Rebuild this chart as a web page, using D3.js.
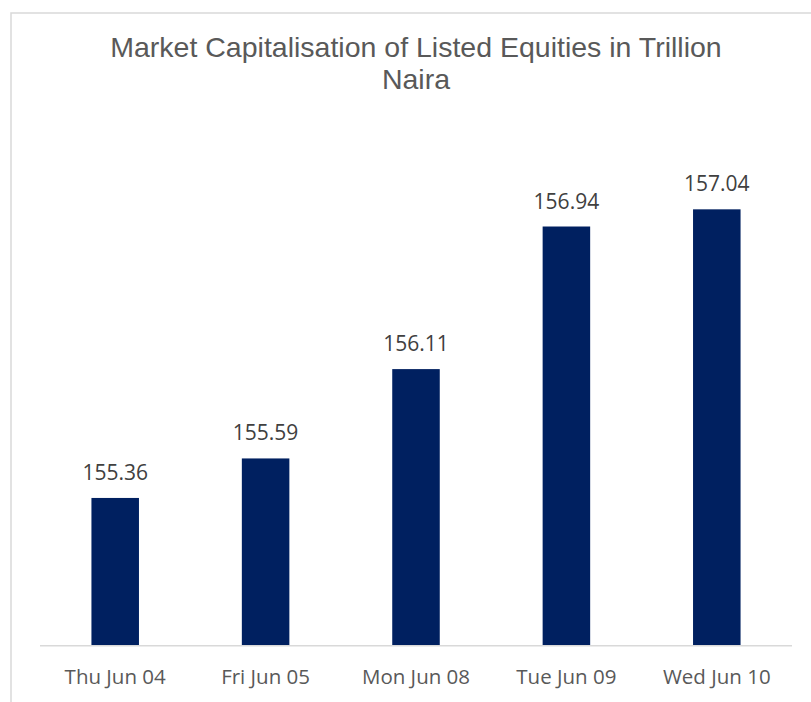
<!DOCTYPE html>
<html>
<head>
<meta charset="utf-8">
<script src="https://cdn.jsdelivr.net/npm/d3@7"></script>
<style>
  html, body { margin: 0; padding: 0; background: #fff; }
  svg { display: block; }
  .title { font-family: "Liberation Sans", Arial, sans-serif; fill: #595959; }
  .val { font-family: "Open Sans", sans-serif; fill: #404040; }
  .cat { font-family: "Open Sans", sans-serif; fill: #595959; }
</style>
</head>
<body>
<div id="chart"></div>
<script>
// Market cap per trading day, trillion naira.
const days = ["Thu Jun 04", "Fri Jun 05", "Mon Jun 08", "Tue Jun 09", "Wed Jun 10"];
const capTrn = [155.36, 155.59, 156.11, 156.94, 157.04];
const titleLines = ["Market Capitalisation of Listed Equities in Trillion", "Naira"];

const W = 811, H = 702;
const plot = { left: 40, right: 792, top: 130.3, bottom: 645.7 };

const svg = d3.select("#chart").append("svg")
  .attr("width", W).attr("height", H);

// chart frame (runs off the right / bottom edge like the original)
svg.append("rect")
  .attr("x", 11).attr("y", 13).attr("width", 830).attr("height", 720)
  .attr("fill", "none").attr("stroke", "#d9d9d9").attr("stroke-width", 1.5);

svg.append("g").selectAll("text").data(titleLines).join("text")
  .attr("class", "title")
  .attr("x", 416).attr("y", (d, i) => 57.3 + i * 32)
  .attr("text-anchor", "middle")
  .attr("font-size", 28.5)
  .text((d) => d);

const x = d3.scaleBand(days, [plot.left, plot.right]).paddingInner(0.684).paddingOuter(0.342);
const y = d3.scaleLinear([154.5, 157.5], [plot.bottom, plot.top]);

svg.append("g").selectAll("rect").data(capTrn).join("rect")
  .attr("x", (d, i) => x(days[i]))
  .attr("width", x.bandwidth())
  .attr("y", (d) => y(d))
  .attr("height", (d) => y.range()[0] - y(d))
  .attr("fill", "#002060");

// category axis line
svg.append("line")
  .attr("x1", plot.left).attr("x2", plot.right)
  .attr("y1", plot.bottom).attr("y2", plot.bottom)
  .attr("stroke", "#d9d9d9").attr("stroke-width", 1.5);

svg.append("g").selectAll("text").data(capTrn).join("text")
  .attr("class", "val")
  .attr("x", (d, i) => x(days[i]) + x.bandwidth() / 2)
  .attr("y", (d) => y(d) - 18)
  .attr("text-anchor", "middle")
  .attr("font-size", 21)
  .text((d) => d.toFixed(2));

svg.append("g").selectAll("text").data(days).join("text")
  .attr("class", "cat")
  .attr("x", (d) => x(d) + x.bandwidth() / 2)
  .attr("y", 684)
  .attr("text-anchor", "middle")
  .attr("font-size", 20.5)
  .text((d) => d);
</script>
</body>
</html>
